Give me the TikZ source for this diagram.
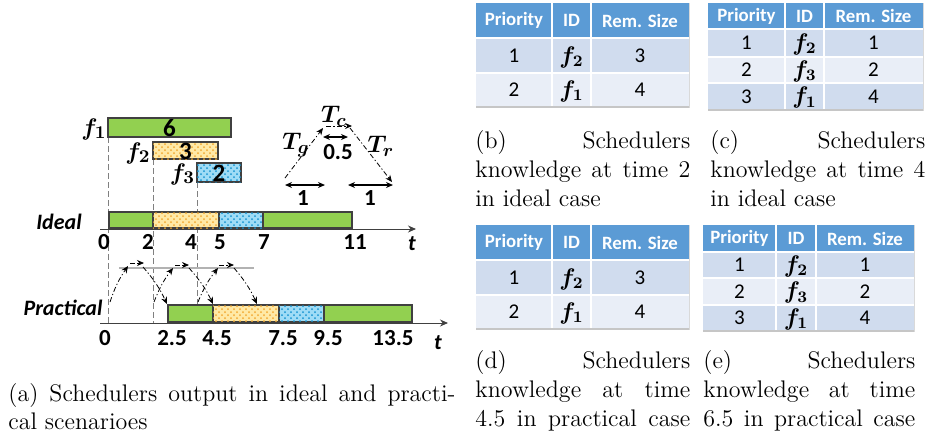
\documentclass[tikz,border=0pt]{standalone}
\usepackage{fontspec}
\usepackage{bm}
\usetikzlibrary{arrows.meta,patterns}
\newfontfamily\carl{Carlito}
\newcommand{\bfv}[2]{$\bm{#1}_{\bm{#2}}$}
\definecolor{barg}{HTML}{92D050}
\definecolor{bary}{HTML}{FFE9A6}
\definecolor{baryp}{HTML}{F2A830}
\definecolor{barb}{HTML}{9FDCF6}
\definecolor{barbp}{HTML}{1593D0}
\definecolor{edge}{HTML}{404040}
\definecolor{hdr}{HTML}{5B9BD5}
\definecolor{rowa}{HTML}{D0DCEE}
\definecolor{rowb}{HTML}{E9EEF7}
\tikzset{
  gbar/.style={draw=edge, line width=0.8pt, fill=barg},
  ybar/.style={draw=edge, line width=0.8pt, fill=bary, postaction={pattern=crosshatch dots, pattern color=baryp}},
  bbar/.style={draw=edge, line width=0.8pt, fill=barb, postaction={pattern=crosshatch dots, pattern color=barbp}},
  taxis/.style={draw=edge, line width=0.5pt, -{Stealth[length=4pt,width=3.5pt]}},
  guide/.style={draw=gray, line width=0.35pt, dash pattern=on 3pt off 1.5pt},
  dd/.style={draw=black, line width=0.4pt, dash pattern=on 2.5pt off 1.2pt on 0.6pt off 1.2pt, -{Stealth[length=3.5pt,width=3pt]}},
  dimarr/.style={draw=black, line width=0.6pt, {Stealth[length=3.5pt,width=3pt]}-{Stealth[length=3.5pt,width=3pt]}},
  num/.style={font=\carl\bfseries\fontsize{11.5}{13}\selectfont, inner sep=0pt},
  barnum/.style={font=\carl\bfseries\fontsize{12.5}{14}\selectfont, inner sep=0pt},
  ital/.style={font=\carl\bfseries\itshape\fontsize{11}{13}\selectfont, inner sep=0pt},
  mth/.style={font=\fontsize{13}{15}\selectfont, inner sep=0pt},
  th/.style={font=\carl\bfseries\fontsize{9.4}{11}\selectfont, text=white, inner sep=0pt},
  td/.style={font=\carl\fontsize{10.5}{12}\selectfont, inner sep=0pt},
  tdm/.style={font=\fontsize{11.5}{13}\selectfont, inner sep=0pt},
  captxt/.style={font=\fontsize{12}{14}\selectfont, inner sep=0pt, anchor=base west},
  cellsep/.style={draw=white, line width=1.2pt},
  tblbot/.style={draw=gray!45, line width=0.6pt}
}
\begin{document}
\begin{tikzpicture}[x=0.5pt,y=-0.5pt]
\useasboundingbox (0,0) rectangle (928,441);

% ---------- (a) ----------
\draw[guide] (108,137) -- (108,323);
\draw[guide] (153,159) -- (153,323);
\draw[guide] (197,182) -- (197,323);

\draw[gbar] (108,118) rectangle (231,137);
\node[barnum] (n6) at (169.5,128) {6};
\draw[ybar] (153,142) rectangle (218,159);
\node[barnum] (n3) at (185.5,151) {3};
\draw[bbar] (197,163) rectangle (241,182);
\node[barnum] (n2) at (219,173) {2};
\node[mth] (fa) at (94,129) {\bfv{f}{1}};
\node[mth] (fb) at (138,153) {\bfv{f}{2}};
\node[mth] (fc) at (182.5,174) {\bfv{f}{3}};

% ideal
\node[ital] (ideal) at (59,222) {Ideal};
\coordinate (ia0) at (100,229);
\coordinate (ia1) at (416,229);
\draw[taxis] (ia0) -- (ia1);
\draw[gbar] (109,212) rectangle (153,228);
\draw[ybar] (153,212) rectangle (219,228);
\draw[bbar] (219,212) rectangle (263,228);
\draw[gbar] (263,212) rectangle (352,228);
\node[num] (i0) at (104,242) {0};
\node[num] (i2) at (148,242) {2};
\node[num] (i4) at (191,242) {4};
\node[num] (i5) at (220,242) {5};
\node[num] (i7) at (264,242) {7};
\node[num] (i11) at (355,242) {11};
\node[ital] (it) at (412,244) {t};

% practical
\node[ital] (prac) at (63,308) {Practical};
\coordinate (pa0) at (100,323);
\coordinate (pa1) at (448,323);
\draw[taxis] (pa0) -- (pa1);
\draw[gray!60, line width=0.6pt] (119,268) -- (254,268);
\draw[gbar] (168,305) rectangle (213,322);
\draw[ybar] (213,305) rectangle (279,322);
\draw[bbar] (279,305) rectangle (324,322);
\draw[gbar] (324,305) rectangle (412,322);
\node[num] (p0) at (105,338) {0};
\node[num] (p25) at (172,338) {2.5};
\node[num] (p45) at (217,338) {4.5};
\node[num] (p75) at (283,338) {7.5};
\node[num] (p95) at (328,338) {9.5};
\node[num] (p135) at (393,338) {13.5};
\node[ital] (pt) at (438,343) {t};

% humps
\coordinate (h1a) at (110,302); \coordinate (h1b) at (128,266);
\coordinate (h1c) at (130,263); \coordinate (h1d) at (144,263);
\coordinate (h1e) at (143,267); \coordinate (h1f) at (167,304);
\coordinate (h2a) at (154,302); \coordinate (h2b) at (173,268);
\coordinate (h2c) at (175,265); \coordinate (h2d) at (189,265);
\coordinate (h2e) at (189,268); \coordinate (h2f) at (213,304);
\coordinate (h3a) at (198,302); \coordinate (h3b) at (218,268);
\coordinate (h3c) at (219,265); \coordinate (h3d) at (234,265);
\coordinate (h3e) at (234,268); \coordinate (h3f) at (257,304);
\draw[dd] (h1a) to[bend left=8] (h1b);
\draw[dd] (h1c) -- (h1d);
\draw[dd] (h1e) to[bend left=8] (h1f);
\draw[dd] (h2a) to[bend left=8] (h2b);
\draw[dd] (h2c) -- (h2d);
\draw[dd] (h2e) to[bend left=8] (h2f);
\draw[dd] (h3a) to[bend left=8] (h3b);
\draw[dd] (h3c) -- (h3d);
\draw[dd] (h3e) to[bend left=8] (h3f);

% legend
\coordinate (lg0) at (285,178); \coordinate (lg1) at (323,128);
\coordinate (lc0) at (326,126); \coordinate (lc1) at (352,126);
\coordinate (lr0) at (350,128); \coordinate (lr1) at (392,182);
\draw[dd] (lg0) -- (lg1);
\draw[dd] (lc0) -- (lc1);
\draw[dd] (lr0) -- (lr1);
\coordinate (d05a) at (323,137); \coordinate (d05b) at (348,137);
\draw[dimarr] (d05a) -- (d05b);
\coordinate (d1a) at (285,185); \coordinate (d1b) at (325,185);
\coordinate (d2a) at (348,185); \coordinate (d2b) at (393,185);
\draw[dimarr] (d1a) -- (d1b);
\draw[dimarr] (d2a) -- (d2b);
\node[mth] (tc) at (334,116) {\bfv{T}{c}};
\node[mth] (tg) at (296,145) {\bfv{T}{g}};
\node[mth] (tr) at (381,146) {\bfv{T}{r}};
\node[num] (l05) at (338,152) {0.5};
\node[num] (l1a) at (303,198) {1};
\node[num] (l1b) at (370,198) {1};

% caption (a)
\node[captxt] (capa1) at (8,401) {\makebox[223.5pt][s]{(a) Schedulers output in ideal and practi-}};
\node[captxt] (capa2) at (8,429) {cal scenarioes};

% ---------- (b) ----------
\draw[gray!30, line width=0.4pt] (476,3) rectangle (689,107);
\fill[hdr] (476,3) rectangle (689,38);
\fill[rowa] (476,38) rectangle (689,73);
\fill[rowb] (476,73) rectangle (689,107);
\draw[cellsep] (552,3) -- (552,107) (591,3) -- (591,107) (476,38) -- (689,38) (476,73) -- (689,73);
\draw[tblbot] (476,107) -- (689,107);
\node[th] (bh1) at (514,20.5) {Priority};
\node[th] (bh2) at (571.5,20.5) {ID};
\node[th] (bh3) at (640,20.5) {Rem. Size};
\node[td] (b11) at (514,56) {1};
\node[tdm] (b12) at (571.5,57) {\bfv{f}{2}};
\node[td] (b13) at (640,56) {3};
\node[td] (b21) at (514,90) {2};
\node[tdm] (b22) at (571.5,91) {\bfv{f}{1}};
\node[td] (b23) at (640,90) {4};
\node[captxt] (capb1) at (475,148) {\makebox[107.5pt][s]{(b) Schedulers}};
\node[captxt] (capb2) at (475,177) {\makebox[107.5pt][s]{knowledge at time 2}};
\node[captxt] (capb3) at (475,206) {in ideal case};

% ---------- (c) ----------
\draw[gray!30, line width=0.4pt] (708,3) rectangle (923,110);
\fill[hdr] (708,3) rectangle (923,29);
\fill[rowa] (708,29) rectangle (923,57);
\fill[rowb] (708,57) rectangle (923,83);
\fill[rowa] (708,83) rectangle (923,110);
\draw[cellsep] (785,3) -- (785,110) (824,3) -- (824,110) (708,29) -- (923,29) (708,57) -- (923,57) (708,83) -- (923,83);
\draw[tblbot] (708,110) -- (923,110);
\node[th] (ch1) at (746.5,16) {Priority};
\node[th] (ch2) at (804.5,16) {ID};
\node[th] (ch3) at (873.5,16) {Rem. Size};
\node[td] (c11) at (746.5,43) {1};
\node[tdm] (c12) at (804.5,44) {\bfv{f}{2}};
\node[td] (c13) at (873.5,43) {1};
\node[td] (c21) at (746.5,70) {2};
\node[tdm] (c22) at (804.5,71) {\bfv{f}{3}};
\node[td] (c23) at (873.5,70) {2};
\node[td] (c31) at (746.5,96.5) {3};
\node[tdm] (c32) at (804.5,97.5) {\bfv{f}{1}};
\node[td] (c33) at (873.5,96.5) {4};
\node[captxt] (capc1) at (710,148) {\makebox[107.5pt][s]{(c) Schedulers}};
\node[captxt] (capc2) at (710,177) {\makebox[107.5pt][s]{knowledge at time 4}};
\node[captxt] (capc3) at (710,206) {in ideal case};

% ---------- (d) ----------
\draw[gray!30, line width=0.4pt] (476,225) rectangle (689,329);
\fill[hdr] (476,225) rectangle (689,260);
\fill[rowa] (476,260) rectangle (689,295);
\fill[rowb] (476,295) rectangle (689,329);
\draw[cellsep] (552,225) -- (552,329) (591,225) -- (591,329) (476,260) -- (689,260) (476,295) -- (689,295);
\draw[tblbot] (476,329) -- (689,329);
\node[th] (dh1) at (514,242.5) {Priority};
\node[th] (dh2) at (571.5,242.5) {ID};
\node[th] (dh3) at (640,242.5) {Rem. Size};
\node[td] (d11) at (514,278) {1};
\node[tdm] (d12) at (571.5,279) {\bfv{f}{2}};
\node[td] (d13) at (640,278) {3};
\node[td] (d21) at (514,312) {2};
\node[tdm] (d22) at (571.5,313) {\bfv{f}{1}};
\node[td] (d23) at (640,312) {4};
\node[captxt] (capd1) at (475,368) {\makebox[107.5pt][s]{(d) Schedulers}};
\node[captxt] (capd2) at (475,397) {\makebox[107.5pt][s]{knowledge at time}};
\node[captxt] (capd3) at (475,426) {\makebox[107.5pt][s]{4.5 in practical case}};

% ---------- (e) ----------
\draw[gray!30, line width=0.4pt] (703,225) rectangle (914,331);
\fill[hdr] (703,225) rectangle (914,252);
\fill[rowa] (703,252) rectangle (914,278);
\fill[rowb] (703,278) rectangle (914,305);
\fill[rowa] (703,305) rectangle (914,331);
\draw[cellsep] (776,225) -- (776,331) (816,225) -- (816,331) (703,252) -- (914,252) (703,278) -- (914,278) (703,305) -- (914,305);
\draw[tblbot] (703,331) -- (914,331);
\node[th] (eh1) at (739.5,238.5) {Priority};
\node[th] (eh2) at (796,238.5) {ID};
\node[th] (eh3) at (865,238.5) {Rem. Size};
\node[td] (e11) at (739.5,265) {1};
\node[tdm] (e12) at (796,266) {\bfv{f}{2}};
\node[td] (e13) at (865,265) {1};
\node[td] (e21) at (739.5,291.5) {2};
\node[tdm] (e22) at (796,292.5) {\bfv{f}{3}};
\node[td] (e23) at (865,291.5) {2};
\node[td] (e31) at (739.5,318) {3};
\node[tdm] (e32) at (796,319) {\bfv{f}{1}};
\node[td] (e33) at (865,318) {4};
\node[captxt] (cape1) at (703,368) {\makebox[106pt][s]{(e) Schedulers}};
\node[captxt] (cape2) at (703,397) {\makebox[106pt][s]{knowledge at time}};
\node[captxt] (cape3) at (703,426) {\makebox[106pt][s]{6.5 in practical case}};
\end{tikzpicture}
\end{document}
